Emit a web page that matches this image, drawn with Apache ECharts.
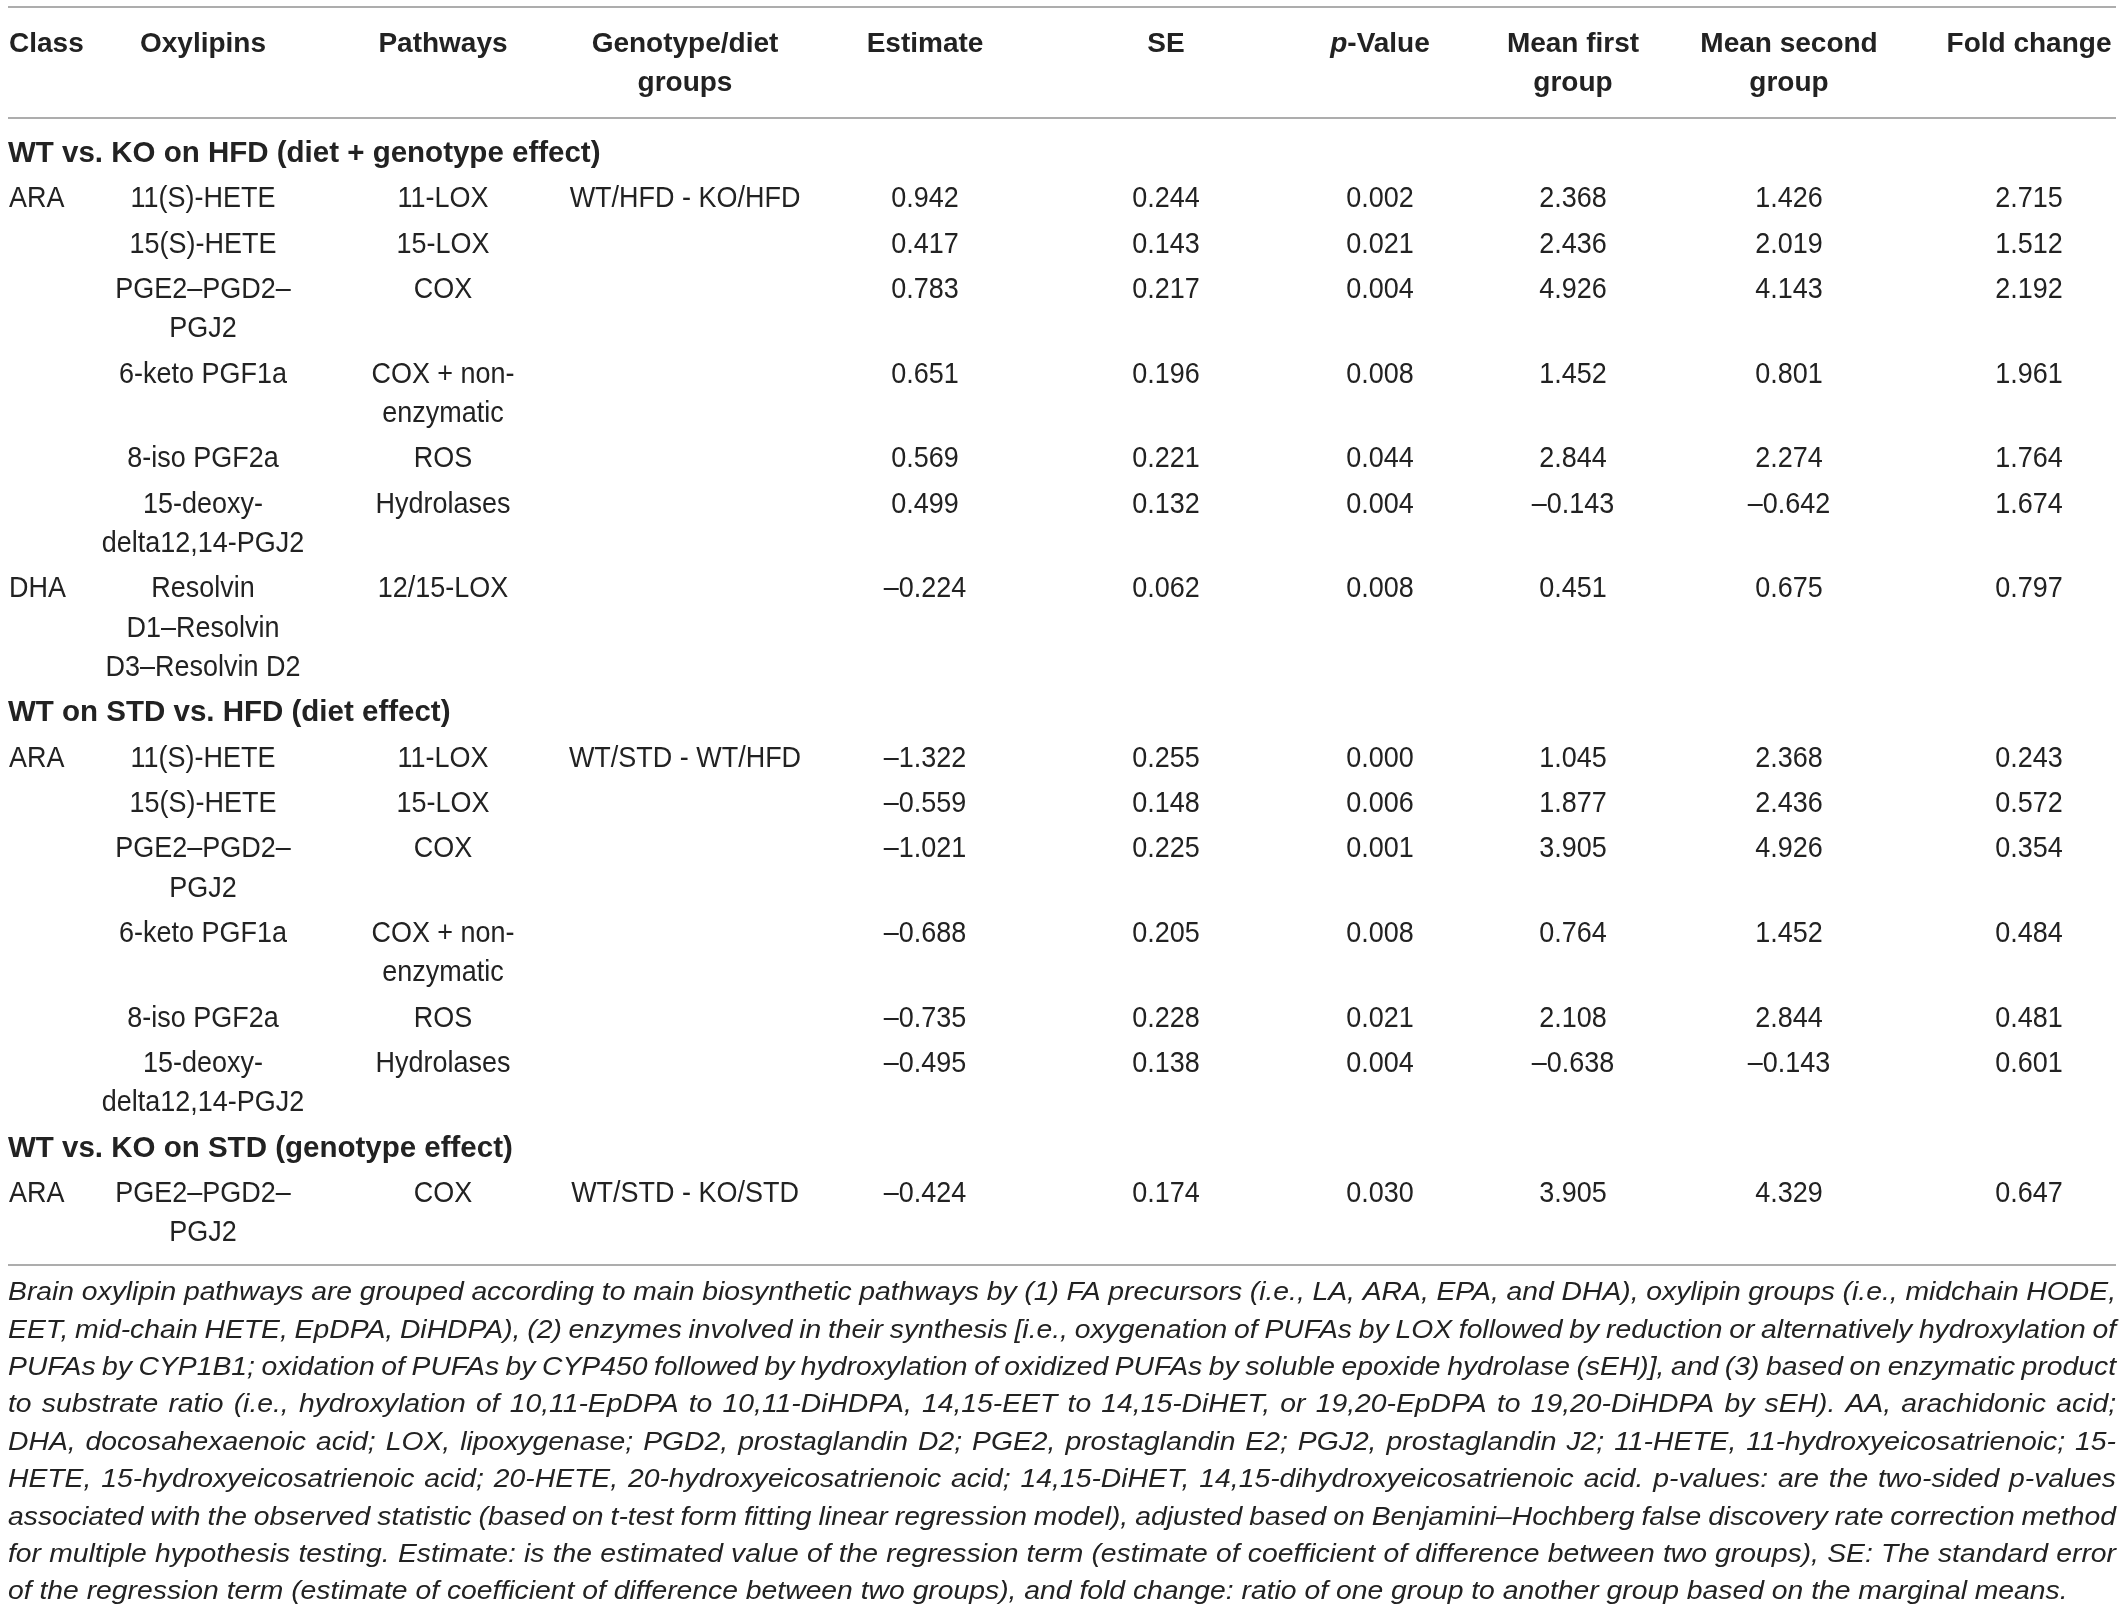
<!DOCTYPE html>
<html>
<head>
<meta charset="utf-8">
<script src="https://cdn.jsdelivr.net/npm/echarts@6/dist/echarts.min.js"></script>
<style>
  html, body { margin: 0; padding: 0; background: #fff; }
  #main { width: 2124px; height: 1613px; }
</style>
</head>
<body>
<div id="main"></div>
<script>
// ---- table data ----
var headers = ['Class', 'Oxylipins', 'Pathways', 'Genotype/diet\ngroups', 'Estimate', 'SE', '{i|p}-Value', 'Mean first\ngroup', 'Mean second\ngroup', 'Fold change'];
var sections = ['WT vs. KO on HFD (diet + genotype effect)', 'WT on STD vs. HFD (diet effect)', 'WT vs. KO on STD (genotype effect)'];
var rowSection = [0, 0, 0, 0, 0, 0, 0, 1, 1, 1, 1, 1, 1, 2];
var classes = ['ARA', '', '', '', '', '', 'DHA', 'ARA', '', '', '', '', '', 'ARA'];
var oxylipins = ['11(S)-HETE', '15(S)-HETE', 'PGE2–PGD2–\nPGJ2', '6-keto PGF1a', '8-iso PGF2a', '15-deoxy-\ndelta12,14-PGJ2',
  'Resolvin\nD1–Resolvin\nD3–Resolvin D2',
  '11(S)-HETE', '15(S)-HETE', 'PGE2–PGD2–\nPGJ2', '6-keto PGF1a', '8-iso PGF2a', '15-deoxy-\ndelta12,14-PGJ2',
  'PGE2–PGD2–\nPGJ2'];
var pathways = ['11-LOX', '15-LOX', 'COX', 'COX + non-\nenzymatic', 'ROS', 'Hydrolases', '12/15-LOX',
  '11-LOX', '15-LOX', 'COX', 'COX + non-\nenzymatic', 'ROS', 'Hydrolases', 'COX'];
var groups = ['WT/HFD - KO/HFD', '', '', '', '', '', '', 'WT/STD - WT/HFD', '', '', '', '', '', 'WT/STD - KO/STD'];
var estimate = [0.942, 0.417, 0.783, 0.651, 0.569, 0.499, -0.224, -1.322, -0.559, -1.021, -0.688, -0.735, -0.495, -0.424];
var se = [0.244, 0.143, 0.217, 0.196, 0.221, 0.132, 0.062, 0.255, 0.148, 0.225, 0.205, 0.228, 0.138, 0.174];
var pValue = [0.002, 0.021, 0.004, 0.008, 0.044, 0.004, 0.008, 0.000, 0.006, 0.001, 0.008, 0.021, 0.004, 0.030];
var meanFirst = [2.368, 2.436, 4.926, 1.452, 2.844, -0.143, 0.451, 1.045, 1.877, 3.905, 0.764, 2.108, -0.638, 3.905];
var meanSecond = [1.426, 2.019, 4.143, 0.801, 2.274, -0.642, 0.675, 2.368, 2.436, 4.926, 1.452, 2.844, -0.143, 4.329];
var foldChange = [2.715, 1.512, 2.192, 1.961, 1.764, 1.674, 0.797, 0.243, 0.572, 0.354, 0.484, 0.481, 0.601, 0.647];

var footnote = [
  'Brain oxylipin pathways are grouped according to main biosynthetic pathways by (1) FA precursors (i.e., LA, ARA, EPA, and DHA), oxylipin groups (i.e., midchain HODE,',
  'EET, mid-chain HETE, EpDPA, DiHDPA), (2) enzymes involved in their synthesis [i.e., oxygenation of PUFAs by LOX followed by reduction or alternatively hydroxylation of',
  'PUFAs by CYP1B1; oxidation of PUFAs by CYP450 followed by hydroxylation of oxidized PUFAs by soluble epoxide hydrolase (sEH)], and (3) based on enzymatic product',
  'to substrate ratio (i.e., hydroxylation of 10,11-EpDPA to 10,11-DiHDPA, 14,15-EET to 14,15-DiHET, or 19,20-EpDPA to 19,20-DiHDPA by sEH). AA, arachidonic acid;',
  'DHA, docosahexaenoic acid; LOX, lipoxygenase; PGD2, prostaglandin D2; PGE2, prostaglandin E2; PGJ2, prostaglandin J2; 11-HETE, 11-hydroxyeicosatrienoic; 15-',
  'HETE, 15-hydroxyeicosatrienoic acid; 20-HETE, 20-hydroxyeicosatrienoic acid; 14,15-DiHET, 14,15-dihydroxyeicosatrienoic acid. p-values: are the two-sided p-values',
  'associated with the observed statistic (based on t-test form fitting linear regression model), adjusted based on Benjamini–Hochberg false discovery rate correction method',
  'for multiple hypothesis testing. Estimate: is the estimated value of the regression term (estimate of coefficient of difference between two groups), SE: The standard error',
  'of the regression term (estimate of coefficient of difference between two groups), and fold change: ratio of one group to another group based on the marginal means.'
];

// ---- layout ----
var FONT = "'Liberation Sans', Arial, Helvetica, sans-serif";
var colX = [9, 203, 443, 685, 925, 1166, 1380, 1573, 1789, 2029];
var left = 8, right = 2116;
var lineH = 39.2, rowStep = 45.4;
var bodyFs = 29, bodyScale = 0.93;
var headFs = 28, sectionFs = 29.5;
var textColor = '#222';
var ruleColor = '#adadad';

function fmt(v) {
  return v.toFixed(3).replace('-', '–');
}

var els = [];

function addText(x, yCenter, text, opts) {
  var size = opts.size;
  var weight = opts.bold ? 'bold' : 'normal';
  els.push({
    type: 'text',
    silent: true,
    x: x,
    y: yCenter + 2 - lineH / 2,
    scaleX: opts.scale || 1,
    style: {
      x: 0,
      y: 0,
      text: text,
      fill: textColor,
      fontSize: size,
      fontWeight: weight,
      fontFamily: FONT,
      lineHeight: lineH,
      align: opts.align || 'center',
      verticalAlign: 'top',
      rich: opts.rich
    }
  });
}

function addRule(y) {
  els.push({
    type: 'line',
    silent: true,
    shape: { x1: left, y1: y, x2: right, y2: y },
    style: { stroke: ruleColor, lineWidth: 2 }
  });
}

// rules
addRule(7);
addRule(118);
addRule(1265);

// header
var richHead = {
  i: { fontStyle: 'italic', fontWeight: 'bold', fontSize: headFs, fontFamily: FONT, fill: textColor, lineHeight: lineH }
};
headers.forEach(function (h, c) {
  addText(colX[c], 42, h, { bold: true, size: headFs, align: c === 0 ? 'left' : 'center', rich: richHead });
});

// body
var y = 152;
var lastSection = -1;
for (var r = 0; r < estimate.length; r++) {
  if (rowSection[r] !== lastSection) {
    lastSection = rowSection[r];
    addText(left, y, sections[lastSection], { bold: true, size: sectionFs, align: 'left' });
    y += rowStep;
  }
  var cells = [classes[r], oxylipins[r], pathways[r], groups[r], fmt(estimate[r]), fmt(se[r]),
    fmt(pValue[r]), fmt(meanFirst[r]), fmt(meanSecond[r]), fmt(foldChange[r])];
  var nLines = 1;
  cells.forEach(function (t, c) {
    if (!t) return;
    nLines = Math.max(nLines, t.split('\n').length);
    addText(colX[c], y, t, { size: bodyFs, scale: bodyScale, align: c === 0 ? 'left' : 'center' });
  });
  y += (nLines - 1) * lineH + rowStep;
}

// footnote (justified, italic)
var noteFs = 26;
var noteFont = 'italic ' + noteFs + 'px ' + FONT;
var ctx = document.createElement('canvas').getContext('2d');
ctx.font = noteFont;
var noteW = right - left;
var k = 10;
footnote.forEach(function (line, i) {
  if (i === footnote.length - 1) return;
  k = Math.min(k, noteW / ctx.measureText(line).width);
});
k *= 1.015;
var spaceW = ctx.measureText(' ').width;
footnote.forEach(function (line, i) {
  var words = line.split(' ');
  var widths = words.map(function (w) { return ctx.measureText(w).width * k; });
  var sum = widths.reduce(function (a, b) { return a + b; }, 0);
  var gap = (i === footnote.length - 1 || words.length < 2) ? spaceW * k : (noteW - sum) / (words.length - 1);
  var x = left;
  var yc = 1293 + i * 37.4;
  words.forEach(function (w, j) {
    els.push({
      type: 'text',
      silent: true,
      x: x,
      y: yc,
      scaleX: k,
      style: {
        x: 0, y: 0,
        text: w,
        fill: textColor,
        fontSize: noteFs,
        fontStyle: 'italic',
        fontFamily: FONT,
        align: 'left',
        verticalAlign: 'middle'
      }
    });
    x += widths[j] + gap;
  });
});

var chart = echarts.init(document.getElementById('main'), null, { renderer: 'canvas' });
chart.setOption({
  backgroundColor: '#fff',
  animation: false,
  graphic: { elements: els }
});
</script>
</body>
</html>
